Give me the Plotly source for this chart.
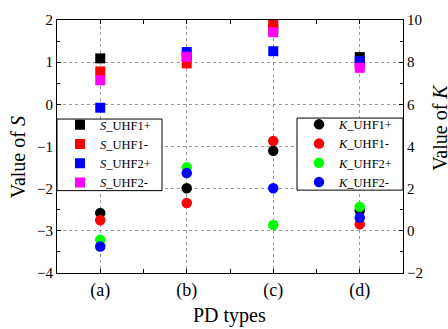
import plotly.graph_objects as go

categories = ["(a)", "(b)", "(c)", "(d)"]
cat_pos = [0, 1, 2, 3]

S_UHF1p = [1.09, 1.15, 1.80, 1.12]
S_UHF1m = [0.78, 0.97, 1.90, 0.95]
S_UHF2p = [-0.08, 1.24, 1.26, 1.03]
S_UHF2m = [0.57, 1.13, 1.71, 0.865]

K_UHF1p = [0.85, 2.02, 3.80, 0.96]
K_UHF1m = [0.50, 1.32, 4.26, 0.31]
K_UHF2p = [-0.42, 3.02, 0.28, 1.14]
K_UHF2m = [-0.74, 2.74, 2.02, 0.62]

FONT = "Liberation Serif"
W, H = 448, 329
L, R, T, B = 57, 403, 15, 273
pw, ph = R - L, B - T

def px_x(p):
    return (p - L) / pw

def px_y(p):
    return (B - p) / ph

fig = go.Figure()

s_series = [("<i>S</i>_UHF1+", S_UHF1p, "#000000"),
            ("<i>S</i>_UHF1-", S_UHF1m, "#ff0000"),
            ("<i>S</i>_UHF2+", S_UHF2p, "#0000ff"),
            ("<i>S</i>_UHF2-", S_UHF2m, "#ff00ff")]
for name, vals, col in s_series:
    fig.add_trace(go.Scatter(x=cat_pos, y=vals, mode="markers", name=name,
                             marker=dict(symbol="square", size=10, color=col),
                             legend="legend", yaxis="y", cliponaxis=True))

k_series = [("<i>K</i>_UHF1+", K_UHF1p, "#000000"),
            ("<i>K</i>_UHF1-", K_UHF1m, "#ff0000"),
            ("<i>K</i>_UHF2+", K_UHF2p, "#00ff00"),
            ("<i>K</i>_UHF2-", K_UHF2m, "#0000ff")]
for name, vals, col in k_series:
    fig.add_trace(go.Scatter(x=cat_pos, y=vals, mode="markers", name=name,
                             marker=dict(symbol="circle", size=10.5, color=col),
                             legend="legend2", yaxis="y2", cliponaxis=True))

axis_common = dict(showline=True, linecolor="black", linewidth=1, ticks="inside",
                   ticklen=4, tickcolor="black", zeroline=False)

fig.update_layout(
    width=W, height=H,
    margin=dict(l=L, r=W - R, t=T, b=H - B),
    paper_bgcolor="white", plot_bgcolor="white",
    font=dict(family=FONT, color="black"),
    xaxis=dict(range=[-0.5, 3.5], tickvals=cat_pos, ticktext=categories,
               mirror="allticks", showgrid=True, gridcolor="#999999",
               griddash="dot", gridwidth=1,
               tickfont=dict(size=18, family=FONT),
               minor=dict(dtick=0.5, tick0=0.5, ticks="inside", ticklen=3,
                          tickcolor="black", showgrid=False),
               **axis_common),
    yaxis=dict(range=[-4, 2], dtick=1, tick0=0, showgrid=True,
               gridcolor="#999999", griddash="dot", gridwidth=1,
               tickfont=dict(size=15, family=FONT),
               minor=dict(dtick=0.5, ticks="inside", ticklen=3,
                          tickcolor="black", showgrid=False),
               **axis_common),
    yaxis2=dict(range=[-2, 10], dtick=2, tick0=0, overlaying="y", side="right",
                showgrid=False, tickfont=dict(size=15, family=FONT),
                minor=dict(dtick=1, ticks="inside", ticklen=3,
                           tickcolor="black", showgrid=False),
                **axis_common),
    legend=dict(x=px_x(60), y=px_y(107), xanchor="left", yanchor="top",
                bgcolor="rgba(0,0,0,0)", borderwidth=0,
                font=dict(size=12.5, family=FONT), tracegroupgap=0,
                itemsizing="trace"),
    legend2=dict(x=px_x(299), y=px_y(106.5), xanchor="left", yanchor="top",
                 bgcolor="rgba(0,0,0,0)", borderwidth=0,
                 font=dict(size=12.5, family=FONT), tracegroupgap=0,
                 itemsizing="trace"),
    showlegend=True,
)

# legend frames
fig.add_shape(type="rect", xref="paper", yref="paper",
              x0=px_x(57), x1=px_x(162), y0=px_y(189), y1=px_y(116),
              line=dict(color="black", width=1), fillcolor="white", layer="above")
fig.add_shape(type="rect", xref="paper", yref="paper",
              x0=px_x(297), x1=px_x(403), y0=px_y(188.5), y1=px_y(115),
              line=dict(color="black", width=1), fillcolor="white", layer="above")

fig.add_annotation(text="Value of <i>S</i>", xref="paper", yref="paper",
                   x=px_x(18), y=px_y(155), textangle=-90, showarrow=False,
                   font=dict(size=20, family=FONT), xanchor="center", yanchor="middle")
fig.add_annotation(text="Value of <i>K</i>", xref="paper", yref="paper",
                   x=px_x(440), y=px_y(125), textangle=-90, showarrow=False,
                   font=dict(size=20, family=FONT), xanchor="center", yanchor="middle")
fig.add_annotation(text="PD types", xref="paper", yref="paper",
                   x=px_x(229), y=px_y(316), showarrow=False,
                   font=dict(size=20, family=FONT), xanchor="center", yanchor="middle")

fig.write_html("out.html")
